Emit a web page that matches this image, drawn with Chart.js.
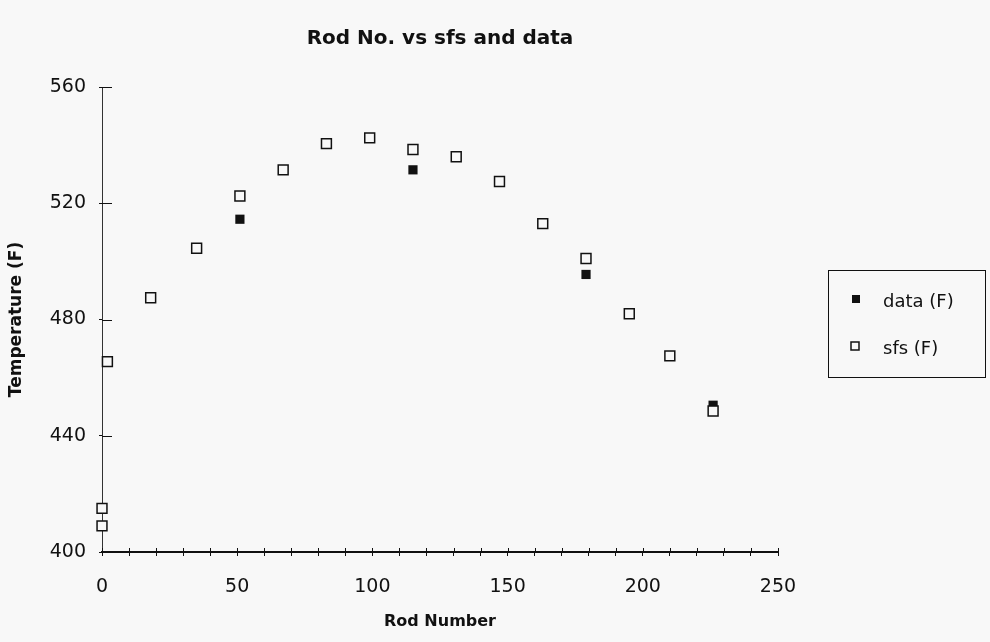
<!DOCTYPE html>
<html>
<head>
<meta charset="utf-8">
<title>Rod No. vs sfs and data</title>
<script src="https://cdn.jsdelivr.net/npm/chart.js@4/dist/chart.umd.min.js"></script>
<style>
    body { margin: 0; background: #f8f8f8; }
    #wrap { width: 990px; height: 642px; }
</style>
</head>
<body>
<div id="wrap"><canvas id="chartRod" width="990" height="642"></canvas></div>
<script>
// Dados
const rodSfs = [0, 0, 2, 18, 35, 51, 67, 83, 99, 115, 131, 147, 163, 179, 195, 210, 226];
const tempSfs = [409, 415, 465.5, 487.5, 504.5, 522.5, 531.5, 540.5, 542.5, 538.5, 536, 527.5, 513, 501, 482, 467.5, 448.5];
const rodData = [51, 115, 179, 226];
const tempData = [514.5, 531.5, 495.5, 450.5];
const seriesLabels = ['data (F)', 'sfs (F)'];

const FONT = "'DejaVu Sans', 'Liberation Sans', Arial, sans-serif";

// Marcas de escala para dentro do gráfico
const innerTicks = {
    id: 'innerTicks',
    afterDraw(chart) {
        const ctx = chart.ctx;
        const area = chart.chartArea;
        const x = chart.scales.x;
        const y = chart.scales.y;
        ctx.save();
        ctx.strokeStyle = '#111';
        ctx.lineWidth = 1;
        ctx.beginPath();
        x.ticks.forEach(t => {
            const px = Math.round(x.getPixelForValue(t.value)) + 0.5;
            ctx.moveTo(px, area.bottom);
            ctx.lineTo(px, area.bottom - 4);
        });
        y.ticks.forEach(t => {
            const py = Math.round(y.getPixelForValue(t.value)) + 0.5;
            ctx.moveTo(area.left, py);
            ctx.lineTo(area.left + 10, py);
        });
        ctx.stroke();
        ctx.restore();
    }
};

// Legenda com caixa, à direita
const boxLegend = {
    id: 'boxLegend',
    afterDraw(chart) {
        const ctx = chart.ctx;
        const left = 828, top = 270, w = 157, h = 107;
        ctx.save();
        ctx.strokeStyle = '#111';
        ctx.lineWidth = 1;
        ctx.strokeRect(left + 0.5, top + 0.5, w, h);
        ctx.font = '18px ' + FONT;
        ctx.fillStyle = '#111';
        ctx.textBaseline = 'middle';
        // data (F)
        ctx.fillRect(852, 295, 8, 8);
        ctx.fillText(seriesLabels[0], 883, 302);
        // sfs (F)
        ctx.lineWidth = 1.5;
        ctx.strokeRect(851, 342, 8, 8);
        ctx.fillText(seriesLabels[1], 883, 349);
        ctx.restore();
    }
};

const ctx = document.getElementById('chartRod').getContext('2d');
new Chart(ctx, {
    type: 'scatter',
    data: {
        datasets: [
            {
                label: seriesLabels[0],
                data: rodData.map((r, i) => ({ x: r, y: tempData[i] })),
                pointStyle: 'rect',
                pointRadius: 6.5,
                backgroundColor: '#111',
                borderColor: '#111',
                borderWidth: 0,
                clip: false,
                order: 1
            },
            {
                label: seriesLabels[1],
                data: rodSfs.map((r, i) => ({ x: r, y: tempSfs[i] })),
                pointStyle: 'rect',
                pointRadius: 7,
                backgroundColor: '#f8f8f8',
                borderColor: '#111',
                borderWidth: 1.5,
                clip: false,
                order: 0
            }
        ]
    },
    options: {
        responsive: false,
        animation: false,
        layout: { padding: { left: 0, right: 212, top: 0, bottom: 0 } },
        plugins: {
            legend: { display: false },
            tooltip: { enabled: false },
            title: {
                display: true,
                fullSize: false,
                text: 'Rod No. vs sfs and data',
                color: '#111',
                font: { family: FONT, size: 20, weight: 'bold' },
                padding: { top: 27, bottom: 36 }
            }
        },
        scales: {
            x: {
                type: 'linear',
                min: 0,
                max: 250,
                afterFit: axis => { axis.height = 90; },
                border: { display: true, color: '#111', width: 2 },
                grid: { display: true, drawOnChartArea: false, drawTicks: true, tickLength: 4, color: '#111' },
                ticks: {
                    stepSize: 10,
                    autoSkip: false,
                    maxRotation: 0,
                    padding: 20,
                    color: '#111',
                    font: { family: FONT, size: 19 },
                    callback: v => (v % 50 === 0 ? v : '')
                },
                title: {
                    display: true,
                    text: 'Rod Number',
                    color: '#111',
                    font: { family: FONT, size: 16, weight: 'bold' },
                    padding: { top: 0, bottom: 11 }
                }
            },
            y: {
                min: 400,
                max: 560,
                afterFit: axis => { axis.width = 102; },
                border: { display: true, color: '#333', width: 1 },
                grid: { display: true, drawOnChartArea: false, drawTicks: true, tickLength: 3, color: '#111' },
                ticks: {
                    stepSize: 40,
                    padding: 13,
                    color: '#111',
                    font: { family: FONT, size: 19 }
                },
                title: {
                    display: true,
                    text: 'Temperature (F)',
                    color: '#111',
                    font: { family: FONT, size: 17, weight: 'bold' },
                    padding: { top: 6, bottom: 0 }
                }
            }
        }
    },
    plugins: [innerTicks, boxLegend]
});
</script>
</body>
</html>
